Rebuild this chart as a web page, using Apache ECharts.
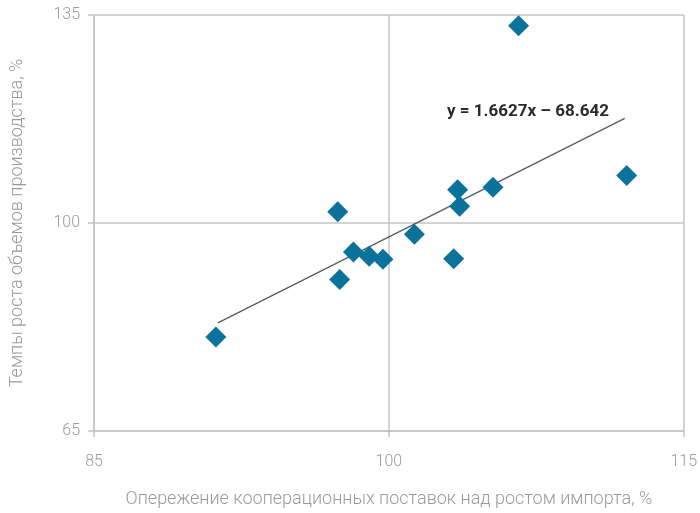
<!DOCTYPE html>
<html>
<head>
<meta charset="utf-8">
<script src="https://cdn.jsdelivr.net/npm/echarts@6/dist/echarts.min.js"></script>
<style>
	html, body { margin: 0; padding: 0; background: #fff; }
	#chart { width: 700px; height: 513px; }
</style>
</head>
<body>
<div id="chart"></div>
<script>
// опережение кооперационных поставок, % / темпы роста производства, %
var xValues = [91.2, 97.4, 97.5, 98.2, 99.0, 99.7, 101.3, 103.3, 103.5, 103.6, 105.3, 106.6, 112.1];
var yValues = [80.8, 101.9, 90.5, 95.1, 94.4, 93.9, 98.1, 94.0, 105.6, 102.8, 106.0, 133.2, 108.0];
// линия тренда, концы
var trendX = [91.3, 112.0];
var trendY = [83.2, 117.6];
var equation = 'y = 1.6627x \u2013 68.642';

var points = xValues.map(function (x, i) { return [x, yValues[i]]; });
var trend = trendX.map(function (x, i) { return [x, trendY[i]]; });

var chart = echarts.init(document.getElementById('chart'));
var axisGray = '#c4c4c4';
var labelGray = '#9a9a9a';
var font = 'Roboto';

chart.setOption({
	animation: false,
	grid: { left: 92, right: 15, top: 15, bottom: 81 },
	xAxis: {
		type: 'value',
		min: 85,
		max: 115,
		interval: 15,
		name: 'Опережение кооперационных поставок над ростом импорта, %',
		nameLocation: 'middle',
		nameGap: 59,
		nameTextStyle: { color: labelGray, fontSize: 18, fontFamily: font, fontWeight: 300 },
		axisLine: { show: true, lineStyle: { color: axisGray, width: 1.5 } },
		axisTick: { show: true, length: 6, lineStyle: { color: axisGray, width: 1.5 } },
		axisLabel: { color: labelGray, fontSize: 16, fontFamily: font, fontWeight: 300, margin: 23 },
		splitLine: { show: true, lineStyle: { color: axisGray, width: 1.5 } }
	},
	yAxis: {
		type: 'value',
		min: 65,
		max: 135,
		interval: 35,
		name: 'Темпы роста объемов производства, %',
		nameLocation: 'middle',
		nameGap: 68,
		nameTextStyle: { color: labelGray, fontSize: 18, fontFamily: font, fontWeight: 300 },
		axisLine: { show: true, lineStyle: { color: axisGray, width: 1.5 } },
		axisTick: { show: true, length: 6, lineStyle: { color: axisGray, width: 1.5 } },
		axisLabel: { color: labelGray, fontSize: 16, fontFamily: font, fontWeight: 300, margin: 14 },
		splitLine: { show: true, lineStyle: { color: axisGray, width: 1.5 } }
	},
	series: [
		{
			type: 'line',
			data: trend,
			symbol: 'none',
			silent: true,
			lineStyle: { color: '#555a60', width: 1.2 },
			z: 1
		},
		{
			type: 'scatter',
			data: points,
			symbol: 'diamond',
			symbolSize: [21, 21],
			itemStyle: { color: '#0b739b', opacity: 1 },
			z: 2
		}
	],
	graphic: [
		{
			type: 'text',
			left: 447,
			top: 103,
			style: {
				text: equation,
				fill: '#2b2b2b',
				font: 'bold 17px Roboto'
			}
		}
	]
});
</script>
</body>
</html>
